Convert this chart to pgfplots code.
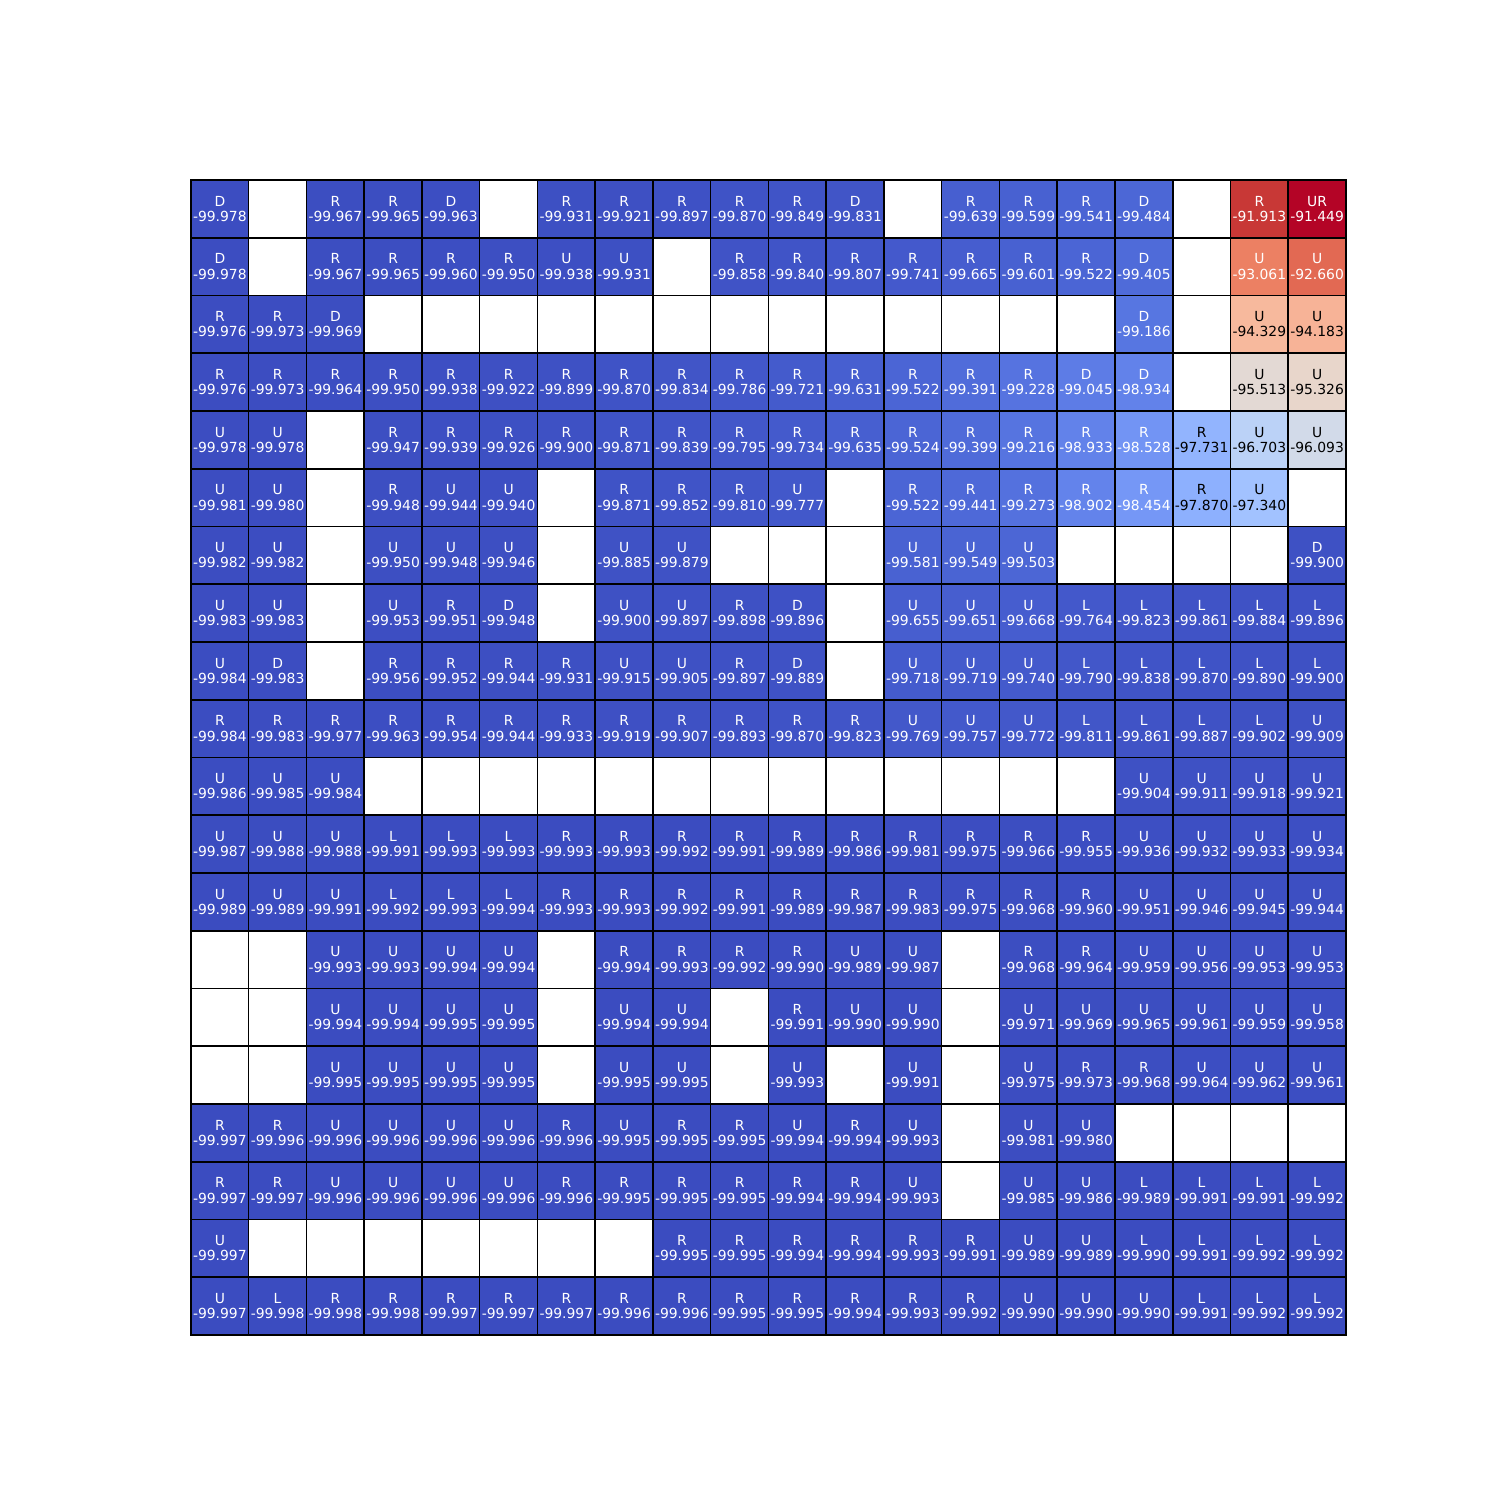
\documentclass[border=0pt]{standalone}
\usepackage{fontspec}
\setmainfont{DejaVu Sans}
\usepackage{pgfplots}
\usepackage{pgfplotstable}
\pgfplotsset{compat=1.18}

% cells with white text: column, row, value, action
\pgfplotstableread{
x y v a
0 0 -99.978 D
2 0 -99.967 R
3 0 -99.965 R
4 0 -99.963 D
6 0 -99.931 R
7 0 -99.921 R
8 0 -99.897 R
9 0 -99.870 R
10 0 -99.849 R
11 0 -99.831 D
13 0 -99.639 R
14 0 -99.599 R
15 0 -99.541 R
16 0 -99.484 D
18 0 -91.913 R
19 0 -91.449 UR
0 1 -99.978 D
2 1 -99.967 R
3 1 -99.965 R
4 1 -99.960 R
5 1 -99.950 R
6 1 -99.938 U
7 1 -99.931 U
9 1 -99.858 R
10 1 -99.840 R
11 1 -99.807 R
12 1 -99.741 R
13 1 -99.665 R
14 1 -99.601 R
15 1 -99.522 R
16 1 -99.405 D
18 1 -93.061 U
19 1 -92.660 U
0 2 -99.976 R
1 2 -99.973 R
2 2 -99.969 D
16 2 -99.186 D
0 3 -99.976 R
1 3 -99.973 R
2 3 -99.964 R
3 3 -99.950 R
4 3 -99.938 R
5 3 -99.922 R
6 3 -99.899 R
7 3 -99.870 R
8 3 -99.834 R
9 3 -99.786 R
10 3 -99.721 R
11 3 -99.631 R
12 3 -99.522 R
13 3 -99.391 R
14 3 -99.228 R
15 3 -99.045 D
16 3 -98.934 D
0 4 -99.978 U
1 4 -99.978 U
3 4 -99.947 R
4 4 -99.939 R
5 4 -99.926 R
6 4 -99.900 R
7 4 -99.871 R
8 4 -99.839 R
9 4 -99.795 R
10 4 -99.734 R
11 4 -99.635 R
12 4 -99.524 R
13 4 -99.399 R
14 4 -99.216 R
15 4 -98.933 R
16 4 -98.528 R
0 5 -99.981 U
1 5 -99.980 U
3 5 -99.948 R
4 5 -99.944 U
5 5 -99.940 U
7 5 -99.871 R
8 5 -99.852 R
9 5 -99.810 R
10 5 -99.777 U
12 5 -99.522 R
13 5 -99.441 R
14 5 -99.273 R
15 5 -98.902 R
16 5 -98.454 R
0 6 -99.982 U
1 6 -99.982 U
3 6 -99.950 U
4 6 -99.948 U
5 6 -99.946 U
7 6 -99.885 U
8 6 -99.879 U
12 6 -99.581 U
13 6 -99.549 U
14 6 -99.503 U
19 6 -99.900 D
0 7 -99.983 U
1 7 -99.983 U
3 7 -99.953 U
4 7 -99.951 R
5 7 -99.948 D
7 7 -99.900 U
8 7 -99.897 U
9 7 -99.898 R
10 7 -99.896 D
12 7 -99.655 U
13 7 -99.651 U
14 7 -99.668 U
15 7 -99.764 L
16 7 -99.823 L
17 7 -99.861 L
18 7 -99.884 L
19 7 -99.896 L
0 8 -99.984 U
1 8 -99.983 D
3 8 -99.956 R
4 8 -99.952 R
5 8 -99.944 R
6 8 -99.931 R
7 8 -99.915 U
8 8 -99.905 U
9 8 -99.897 R
10 8 -99.889 D
12 8 -99.718 U
13 8 -99.719 U
14 8 -99.740 U
15 8 -99.790 L
16 8 -99.838 L
17 8 -99.870 L
18 8 -99.890 L
19 8 -99.900 L
0 9 -99.984 R
1 9 -99.983 R
2 9 -99.977 R
3 9 -99.963 R
4 9 -99.954 R
5 9 -99.944 R
6 9 -99.933 R
7 9 -99.919 R
8 9 -99.907 R
9 9 -99.893 R
10 9 -99.870 R
11 9 -99.823 R
12 9 -99.769 U
13 9 -99.757 U
14 9 -99.772 U
15 9 -99.811 L
16 9 -99.861 L
17 9 -99.887 L
18 9 -99.902 L
19 9 -99.909 U
0 10 -99.986 U
1 10 -99.985 U
2 10 -99.984 U
16 10 -99.904 U
17 10 -99.911 U
18 10 -99.918 U
19 10 -99.921 U
0 11 -99.987 U
1 11 -99.988 U
2 11 -99.988 U
3 11 -99.991 L
4 11 -99.993 L
5 11 -99.993 L
6 11 -99.993 R
7 11 -99.993 R
8 11 -99.992 R
9 11 -99.991 R
10 11 -99.989 R
11 11 -99.986 R
12 11 -99.981 R
13 11 -99.975 R
14 11 -99.966 R
15 11 -99.955 R
16 11 -99.936 U
17 11 -99.932 U
18 11 -99.933 U
19 11 -99.934 U
0 12 -99.989 U
1 12 -99.989 U
2 12 -99.991 U
3 12 -99.992 L
4 12 -99.993 L
5 12 -99.994 L
6 12 -99.993 R
7 12 -99.993 R
8 12 -99.992 R
9 12 -99.991 R
10 12 -99.989 R
11 12 -99.987 R
12 12 -99.983 R
13 12 -99.975 R
14 12 -99.968 R
15 12 -99.960 R
16 12 -99.951 U
17 12 -99.946 U
18 12 -99.945 U
19 12 -99.944 U
2 13 -99.993 U
3 13 -99.993 U
4 13 -99.994 U
5 13 -99.994 U
7 13 -99.994 R
8 13 -99.993 R
9 13 -99.992 R
10 13 -99.990 R
11 13 -99.989 U
12 13 -99.987 U
14 13 -99.968 R
15 13 -99.964 R
16 13 -99.959 U
17 13 -99.956 U
18 13 -99.953 U
19 13 -99.953 U
2 14 -99.994 U
3 14 -99.994 U
4 14 -99.995 U
5 14 -99.995 U
7 14 -99.994 U
8 14 -99.994 U
10 14 -99.991 R
11 14 -99.990 U
12 14 -99.990 U
14 14 -99.971 U
15 14 -99.969 U
16 14 -99.965 U
17 14 -99.961 U
18 14 -99.959 U
19 14 -99.958 U
2 15 -99.995 U
3 15 -99.995 U
4 15 -99.995 U
5 15 -99.995 U
7 15 -99.995 U
8 15 -99.995 U
10 15 -99.993 U
12 15 -99.991 U
14 15 -99.975 U
15 15 -99.973 R
16 15 -99.968 R
17 15 -99.964 U
18 15 -99.962 U
19 15 -99.961 U
0 16 -99.997 R
1 16 -99.996 R
2 16 -99.996 U
3 16 -99.996 U
4 16 -99.996 U
5 16 -99.996 U
6 16 -99.996 R
7 16 -99.995 U
8 16 -99.995 R
9 16 -99.995 R
10 16 -99.994 U
11 16 -99.994 R
12 16 -99.993 U
14 16 -99.981 U
15 16 -99.980 U
0 17 -99.997 R
1 17 -99.997 R
2 17 -99.996 U
3 17 -99.996 U
4 17 -99.996 U
5 17 -99.996 U
6 17 -99.996 R
7 17 -99.995 R
8 17 -99.995 R
9 17 -99.995 R
10 17 -99.994 R
11 17 -99.994 R
12 17 -99.993 U
14 17 -99.985 U
15 17 -99.986 U
16 17 -99.989 L
17 17 -99.991 L
18 17 -99.991 L
19 17 -99.992 L
0 18 -99.997 U
8 18 -99.995 R
9 18 -99.995 R
10 18 -99.994 R
11 18 -99.994 R
12 18 -99.993 R
13 18 -99.991 R
14 18 -99.989 U
15 18 -99.989 U
16 18 -99.990 L
17 18 -99.991 L
18 18 -99.992 L
19 18 -99.992 L
0 19 -99.997 U
1 19 -99.998 L
2 19 -99.998 R
3 19 -99.998 R
4 19 -99.997 R
5 19 -99.997 R
6 19 -99.997 R
7 19 -99.996 R
8 19 -99.996 R
9 19 -99.995 R
10 19 -99.995 R
11 19 -99.994 R
12 19 -99.993 R
13 19 -99.992 R
14 19 -99.990 U
15 19 -99.990 U
16 19 -99.990 U
17 19 -99.991 L
18 19 -99.992 L
19 19 -99.992 L
}\cells

% cells with black text (light background)
\pgfplotstableread{
x y v a
18 2 -94.329 U
19 2 -94.183 U
18 3 -95.513 U
19 3 -95.326 U
17 4 -97.731 R
18 4 -96.703 U
19 4 -96.093 U
17 5 -97.870 R
18 5 -97.340 U
}\lightcells

\pgfplotsset{
    cellsquares/.style={
        scatter, only marks,
        mark=square*, mark size=20.79pt,
        point meta=explicit,
        scatter/use mapped color={draw=black, fill=mapped color, line width=1.1pt},
    },
    celltext/.style 2 args={
        only marks, mark=none,
        point meta=explicit symbolic,
        nodes near coords,
        every node near coord/.style={anchor=center, inner sep=0pt,
            yshift=#2, text=#1, font=\fontsize{10}{12}\selectfont},
    },
}

\begin{document}
\begin{tikzpicture}
\begin{axis}[
    name=ax,
    width=831.6pt,
    height=831.6pt,
    scale only axis,
    xmin=-0.5, xmax=19.5,
    ymin=-0.5, ymax=19.5,
    y dir=reverse,
    xtick={-0.5,0.5,...,19.5},
    ytick={-0.5,0.5,...,19.5},
    xticklabels={}, yticklabels={},
    major tick length=0pt,
    grid=major,
    major grid style={black, line width=1.1pt},
    axis line style={black, line width=1.1pt},
    colormap={coolwarm}{
        rgb255=(59,76,192) rgb255=(68,90,204) rgb255=(77,104,215) rgb255=(87,117,225)
        rgb255=(98,130,234) rgb255=(108,142,241) rgb255=(119,154,247) rgb255=(130,165,251)
        rgb255=(141,176,254) rgb255=(152,185,255) rgb255=(163,194,255) rgb255=(174,201,253)
        rgb255=(184,208,249) rgb255=(194,213,244) rgb255=(204,217,238) rgb255=(213,219,230)
        rgb255=(221,221,221) rgb255=(229,216,209) rgb255=(236,211,197) rgb255=(241,204,185)
        rgb255=(245,196,173) rgb255=(247,187,160) rgb255=(247,177,148) rgb255=(247,166,135)
        rgb255=(244,154,123) rgb255=(241,141,111) rgb255=(236,127,99) rgb255=(229,112,88)
        rgb255=(222,96,77) rgb255=(213,80,66) rgb255=(203,62,56) rgb255=(192,40,47)
        rgb255=(180,4,38)},
    point meta min=-99.998,
    point meta max=-91.449,
]
\addplot[cellsquares] table[x=x, y=y, meta=v] {\cells};
\addplot[cellsquares] table[x=x, y=y, meta=v] {\lightcells};
\addplot[celltext={white}{5.6pt}] table[x=x, y=y, meta=a] {\cells};
\addplot[celltext={white}{-5.4pt}] table[x=x, y=y, meta=v] {\cells};
\addplot[celltext={black}{5.6pt}] table[x=x, y=y, meta=a] {\lightcells};
\addplot[celltext={black}{-5.4pt}] table[x=x, y=y, meta=v] {\lightcells};
\end{axis}
\path ([shift={(-137.5pt,-118.8pt)}]ax.south west) rectangle ([shift={(110.9pt,129.6pt)}]ax.north east);
\end{tikzpicture}
\end{document}
